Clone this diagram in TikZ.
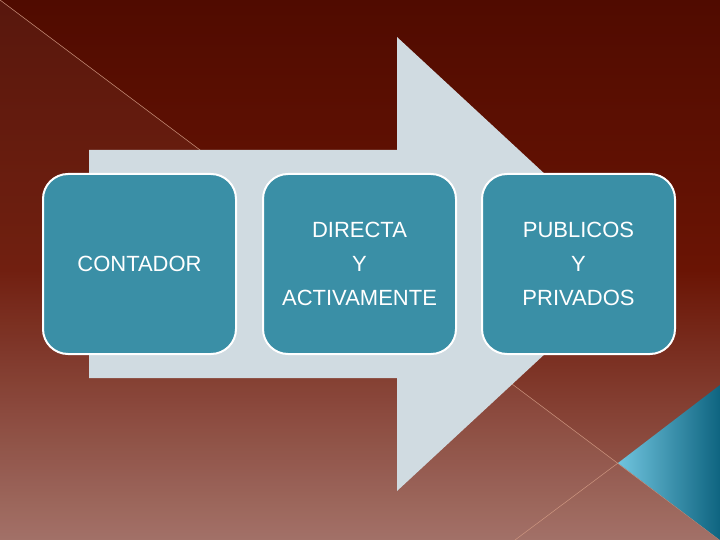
\documentclass[tikz,border=0pt]{standalone}
\usepackage{fontspec}
\setmainfont{Liberation Sans}
\usetikzlibrary{calc, positioning}
\definecolor{bgtop}{RGB}{80,11,0}
\definecolor{bgmid}{RGB}{106,20,4}
\definecolor{bgbot}{RGB}{158,106,96}
\definecolor{arrowgray}{RGB}{208,219,225}
\definecolor{boxteal}{RGB}{58,143,166}
\definecolor{tealhi}{RGB}{112,196,222}
\definecolor{tealdk}{RGB}{14,100,128}
\definecolor{hairline}{RGB}{206,150,128}
\tikzstyle{procbox} = [rectangle, rounded corners=25pt, minimum width=193pt, minimum height=180pt, text centered, align=center, draw=white, line width=2pt, fill=boxteal, text=white, font=\fontsize{22}{34}\selectfont]
\tikzstyle{hair} = [draw=hairline, line width=0.5pt]

\begin{document}
\begin{tikzpicture}[x=1pt, y=-1pt]
			\useasboundingbox (0,0) rectangle (720,540);
			% background
			\shade[top color=bgtop, bottom color=bgbot, middle color=bgmid] (0,0) rectangle (720,540);
			\fill[white, opacity=0.05] (0,0) -- (720,540) -- (0,540) -- cycle;
			\coordinate (c0) at (0,0);
			\coordinate (c1) at (720,540);
			\coordinate (m) at (618,463);
			\coordinate (c2) at (515,540);
			\draw [hair] (c0) -- (c1);
			\draw [hair] (m) -- (c2);
			\shade[left color=tealhi, right color=tealdk] (m) -- (720,385) -- (720,540) -- cycle;
			
			% arrow
			\fill[arrowgray] (89,150) -- (397,150) -- (397,37) -- (642,264) -- (397,491) -- (397,378) -- (89,378) -- cycle;
			
			\node (contador) [procbox] at (139.5,264) {CONTADOR};
			\node (directa) [procbox, right=25pt of contador] {DIRECTA\\Y\\ACTIVAMENTE};
			\node (publicos) [procbox, right=24pt of directa] {PUBLICOS\\Y\\PRIVADOS};
			
		\end{tikzpicture}
\end{document}
